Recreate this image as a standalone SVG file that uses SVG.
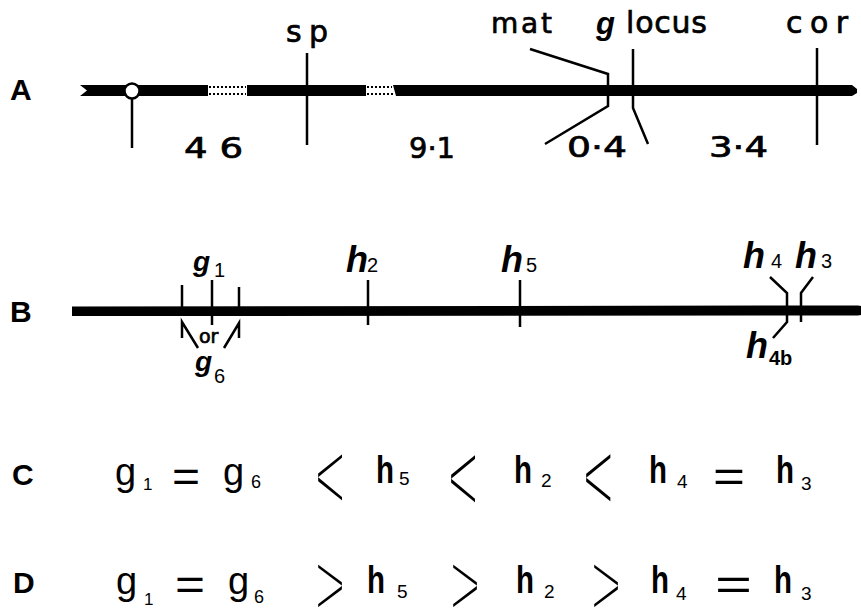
<svg xmlns="http://www.w3.org/2000/svg" width="861" height="611" viewBox="0 0 861 611">
<style>
.bar{fill:#000}
.tk{stroke:#000;stroke-width:2.5;fill:none;stroke-linecap:butt}
.dots{stroke:#000;stroke-width:2;stroke-dasharray:2 2;fill:none}
.row{font-family:"Liberation Sans",Arial,sans-serif;font-size:30px;font-weight:bold;fill:#000}
.lbl{font-family:"DejaVu Sans","Liberation Sans",sans-serif;fill:#000;stroke:#000;stroke-width:0.7}
.num{font-family:"DejaVu Sans","Liberation Sans",sans-serif;font-size:29px;fill:#000;stroke:#000;stroke-width:0.7}
.it{font-family:"Liberation Sans",Arial,sans-serif;font-style:italic;font-weight:bold;fill:#000}
.sub{font-family:"Liberation Sans",Arial,sans-serif;font-size:20px;fill:#000}
.eq{font-family:"Liberation Sans",Arial,sans-serif;fill:#000}
.hh{font-family:"Liberation Sans",Arial,sans-serif;font-weight:bold;font-size:38px;fill:#000}
.chev{font-family:"Liberation Sans",Arial,sans-serif;font-size:40px;fill:#000;stroke:#fff;stroke-width:3;vector-effect:non-scaling-stroke}
</style>
<rect width="861" height="611" fill="#fff"/>

<!-- Row A -->
<g id="rowA-label"><text class="row" x="10" y="100">A</text></g>
<g id="chromosomeA">
  <polygon class="bar" points="80,85 208,85 208,96 80,96 87,90.5"/>
  <rect class="bar" x="247" y="85" width="119" height="11"/>
  <polygon class="bar" points="393,85 852,85 857,89 857,93 852,96 396,96"/>
  <line class="dots" x1="209" y1="87" x2="246" y2="87"/>
  <line class="dots" x1="209" y1="94" x2="246" y2="94"/>
  <line class="dots" x1="367" y1="87" x2="392" y2="87"/>
  <line class="dots" x1="367" y1="94" x2="394" y2="94"/>
</g>
<g id="centromere">
  <circle cx="132" cy="91" r="7.5" fill="#fff" stroke="#000" stroke-width="2.5"/>
</g>
<g id="sp"><text class="lbl" x="286" y="42" font-size="30" textLength="42" lengthAdjust="spacing">sp</text></g>
<g id="mat"><text class="lbl" x="491" y="33" font-size="28" textLength="61" lengthAdjust="spacing">mat</text></g>
<g id="glocus">
  <text class="it" x="596" y="34" font-size="31">g</text>
  <text class="lbl" x="626" y="33" font-size="30" textLength="81" lengthAdjust="spacing">locus</text>
</g>
<g id="cor"><text class="lbl" x="786" y="33" font-size="30" textLength="62" lengthAdjust="spacing">cor</text></g>
<g id="distances">
  <text class="num" x="184" y="158" textLength="59" lengthAdjust="spacingAndGlyphs">4 6</text>
  <text class="num" x="409" y="158" textLength="46" lengthAdjust="spacingAndGlyphs">9·1</text>
  <text class="num" x="567" y="157" textLength="60" lengthAdjust="spacingAndGlyphs">0·4</text>
  <text class="num" x="709" y="157" textLength="59" lengthAdjust="spacingAndGlyphs">3·4</text>
</g>

<!-- Row B -->
<g id="rowB-label"><text class="row" x="10" y="322">B</text></g>
<g id="chromosomeB">
  <polygon class="bar" points="72,306.5 858,305.5 861,306 861,315 858,315.5 72,316"/>
</g>
<g id="g1"><text class="it" x="193" y="271" font-size="28">g</text><text class="sub" x="214" y="277">1</text></g>
<g id="g6"><text class="it" x="195" y="371" font-size="28">g</text><text class="sub" x="214" y="383" font-size="19">6</text></g>
<g id="or"><text class="lbl" x="199" y="343" font-size="19" stroke-width="0.4">or</text></g>
<g id="h2"><text class="it" x="346" y="272" font-size="36">h</text><text class="sub" x="367" y="272" font-size="22">2</text></g>
<g id="h5"><text class="it" x="501" y="272" font-size="36">h</text><text class="sub" x="526" y="272" font-size="22">5</text></g>
<g id="h4"><text class="it" x="743" y="268" font-size="36">h</text><text class="sub" x="771" y="268" font-size="22">4</text></g>
<g id="h3"><text class="it" x="795" y="268" font-size="36">h</text><text class="sub" x="821" y="268" font-size="22">3</text></g>
<g id="h4b"><text class="it" x="746" y="358" font-size="36">h</text><text class="sub" x="769" y="365" font-size="19" font-weight="bold">4b</text></g>

<!-- connectors / ticks -->
<g id="connectors">
  <line class="tk" x1="132" y1="98.5" x2="132" y2="148"/>
  <line class="tk" x1="307" y1="53" x2="307" y2="145"/>
  <polyline class="tk" points="530,49 608,74 608,106 545,144"/>
  <polyline class="tk" points="633,49 633,108 648,144"/>
  <line class="tk" x1="817" y1="48" x2="817" y2="145"/>
  <line class="tk" x1="182" y1="285" x2="182" y2="308"/>
  <line class="tk" x1="212" y1="280" x2="212" y2="325"/>
  <line class="tk" x1="239" y1="287" x2="239" y2="307"/>
  <polyline class="tk" points="182,338 182,322 198,348"/>
  <polyline class="tk" points="224,348 239,323 239,338"/>
  <line class="tk" x1="368" y1="280" x2="368" y2="325"/>
  <line class="tk" x1="520" y1="280" x2="520" y2="327"/>
  <polyline class="tk" points="770,277 787,293 787,322 773,338"/>
  <polyline class="tk" points="813,277 801,293 801,322"/>
</g>

<!-- Row C -->
<g id="rowC">
  <text class="row" x="12" y="485" style="font-weight:600">C</text>
  <text class="eq" x="115" y="485" font-size="38">g</text>
  <text class="eq" x="143" y="490" font-size="17">1</text>
  <text class="eq" x="172" y="492" font-size="44" textLength="28" lengthAdjust="spacingAndGlyphs">=</text>
  <text class="eq" x="223" y="485" font-size="38">g</text>
  <text class="eq" x="251" y="488" font-size="18">6</text>
  <text class="chev" transform="translate(314.5,511) scale(1.33,2.55)">&lt;</text>
  <text class="hh" x="376" y="483" textLength="18" lengthAdjust="spacingAndGlyphs">h</text>
  <text class="eq" x="399" y="485" font-size="19">5</text>
  <text class="chev" transform="translate(447.5,513) scale(1.33,2.6)">&lt;</text>
  <text class="hh" x="514" y="483" textLength="18" lengthAdjust="spacingAndGlyphs">h</text>
  <text class="eq" x="541" y="487" font-size="19">2</text>
  <text class="chev" transform="translate(582.5,512) scale(1.35,2.6)">&lt;</text>
  <text class="hh" x="649" y="483" textLength="18" lengthAdjust="spacingAndGlyphs">h</text>
  <text class="eq" x="677" y="488" font-size="19">4</text>
  <text class="eq" x="713" y="492" font-size="44" textLength="32" lengthAdjust="spacingAndGlyphs">=</text>
  <text class="hh" x="776" y="483" textLength="18" lengthAdjust="spacingAndGlyphs">h</text>
  <text class="eq" x="801" y="490" font-size="19">3</text>
</g>

<!-- Row D -->
<g id="rowD">
  <text class="row" x="13" y="593" style="font-weight:600">D</text>
  <text class="eq" x="116" y="594" font-size="38">g</text>
  <text class="eq" x="144" y="605" font-size="17">1</text>
  <text class="eq" x="175" y="600" font-size="44" textLength="30" lengthAdjust="spacingAndGlyphs">=</text>
  <text class="eq" x="228" y="594" font-size="38">g</text>
  <text class="eq" x="254" y="603" font-size="18">6</text>
  <text class="chev" transform="translate(314.5,617) scale(1.33,2.35)">&gt;</text>
  <text class="hh" x="367" y="593" textLength="18" lengthAdjust="spacingAndGlyphs">h</text>
  <text class="eq" x="397" y="598" font-size="19">5</text>
  <text class="chev" transform="translate(449.5,617) scale(1.33,2.35)">&gt;</text>
  <text class="hh" x="516" y="593" textLength="18" lengthAdjust="spacingAndGlyphs">h</text>
  <text class="eq" x="544" y="598" font-size="19">2</text>
  <text class="chev" transform="translate(590.5,617) scale(1.33,2.35)">&gt;</text>
  <text class="hh" x="651" y="593" textLength="18" lengthAdjust="spacingAndGlyphs">h</text>
  <text class="eq" x="676" y="600" font-size="19">4</text>
  <text class="eq" x="715" y="600" font-size="44" textLength="37" lengthAdjust="spacingAndGlyphs">=</text>
  <text class="hh" x="774" y="593" textLength="18" lengthAdjust="spacingAndGlyphs">h</text>
  <text class="eq" x="801" y="600" font-size="19">3</text>
</g>
</svg>
